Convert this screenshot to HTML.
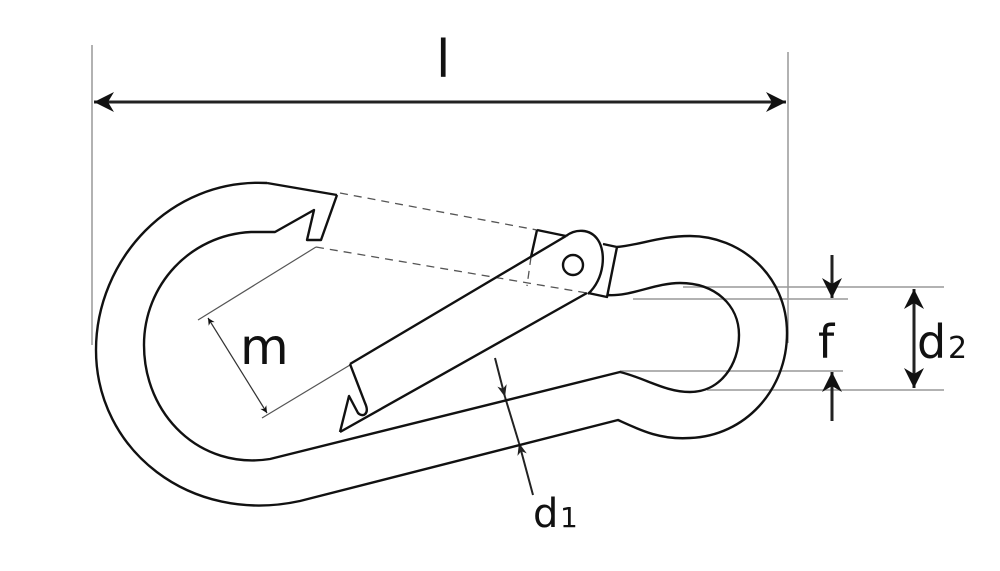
<!DOCTYPE html>
<html><head><meta charset="utf-8"><style>
html,body{margin:0;padding:0;background:#fff;}
svg{display:block;}
text{font-family:"DejaVu Sans","Liberation Sans",sans-serif;fill:#111;}
</style></head><body>
<svg width="1000" height="571" viewBox="0 0 1000 571" xmlns="http://www.w3.org/2000/svg">
<defs>
<marker id="ah" viewBox="0 0 10 10" refX="10" refY="5" markerWidth="7" markerHeight="7" orient="auto-start-reverse" markerUnits="userSpaceOnUse">
<path d="M0,0 L10,5 L0,10 L3,5 z" fill="#111"/></marker>
<marker id="ahs" viewBox="0 0 10 10" refX="10" refY="5" markerWidth="12" markerHeight="12" orient="auto-start-reverse" markerUnits="userSpaceOnUse">
<path d="M0,1 L10,5 L0,9 L3,5 z" fill="#222"/></marker>
<marker id="ahb" viewBox="0 0 10 10" refX="10" refY="5" markerWidth="22" markerHeight="20" orient="auto-start-reverse" markerUnits="userSpaceOnUse">
<path d="M0,0 L10,5 L0,10 L3,5 z" fill="#111"/></marker>
</defs>
<g stroke="#999" stroke-width="1.5" fill="none">
<line x1="92" y1="45" x2="92" y2="345"/>
<line x1="788" y1="52" x2="788" y2="343"/>
<line x1="683" y1="287" x2="944" y2="287"/>
<line x1="633" y1="299" x2="848" y2="299"/>
<line x1="620" y1="371" x2="843" y2="371"/>
<line x1="707" y1="390" x2="944" y2="390"/>
</g>
<g stroke="#555" stroke-width="1.2" fill="none">
<line x1="316" y1="247" x2="198" y2="320"/>
<line x1="350" y1="365" x2="262" y2="418"/>
</g>
<line x1="208" y1="318" x2="267" y2="413" stroke="#333" stroke-width="1.2" marker-start="url(#ah)" marker-end="url(#ah)"/>
<line x1="94" y1="102" x2="786" y2="102" stroke="#222" stroke-width="3" marker-start="url(#ahb)" marker-end="url(#ahb)"/>
<line x1="832" y1="255" x2="832" y2="298" stroke="#222" stroke-width="3" marker-end="url(#ahb)"/>
<line x1="832" y1="421" x2="832" y2="372" stroke="#222" stroke-width="3" marker-end="url(#ahb)"/>
<line x1="914" y1="289" x2="914" y2="388" stroke="#222" stroke-width="3" marker-start="url(#ahb)" marker-end="url(#ahb)"/>
<line x1="495" y1="358" x2="505" y2="397" stroke="#222" stroke-width="2" marker-end="url(#ahs)"/>
<line x1="505" y1="397" x2="519" y2="443" stroke="#222" stroke-width="2"/>
<line x1="533" y1="495" x2="519" y2="443" stroke="#222" stroke-width="2" marker-end="url(#ahs)"/>
<g stroke="#555" stroke-width="1.3" fill="none" stroke-dasharray="8,6">
<line x1="340" y1="193" x2="537" y2="230"/>
<line x1="316" y1="247" x2="587" y2="293"/>
<line x1="531" y1="257" x2="527" y2="286"/>
</g>
<g stroke="#111" stroke-width="2.4" fill="none" stroke-linejoin="round">
<path d="M267,183 C170,178 96,260 96,350 C96,450 190,525 300,501 L618,420 C640,430 660,440 690,438 C745,436 787,390 787,333 C787,275 740,236 690,236 C660,236 640,245 617,247"/>
<path d="M267,183 L337,195"/>
<path d="M337,195 L321,240 L307,240 L314,210 L275,232 L251,232 C190,235 144,285 144,345 C144,415 200,470 270,459 L620,372 C645,378 665,392 690,392 C720,392 739,365 739,335 C739,305 715,283 680,283 C655,283 630,297 607,295"/>
<path d="M350,364 L566,236"/>
<path d="M340,432 L587,293"/>
<path d="M350,364 L365,403 C370,414 363,418 358,413 L349,396 L340,432"/>
<path d="M537,230 L566,236 M537,230 L531,257"/>
<path d="M566,236 C575,229 590,228 598,240 C606,252 605,278 588,294"/>
<path d="M603,244 L617,247 L607,297 L588,293"/>
<circle cx="573" cy="265" r="10"/>
</g>
<text x="436" y="77" font-size="52">l</text>
<text x="240" y="364" font-size="50">m</text>
<text x="818" y="358" font-size="46">f</text>
<text x="917" y="358" font-size="46">d</text>
<text x="948" y="358" font-size="30">2</text>
<text x="533" y="527" font-size="40">d</text>
<text x="560" y="527" font-size="28">1</text>
</svg>
</body></html>
